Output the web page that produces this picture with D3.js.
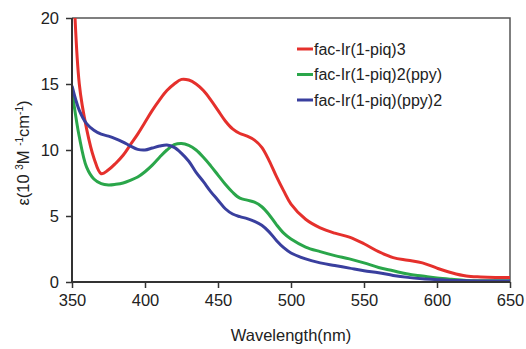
<!DOCTYPE html>
<html>
<head>
<meta charset="utf-8">
<script src="https://cdn.jsdelivr.net/npm/d3@7"></script>
<style>
    body { margin: 0; background: #fff; }
    svg text { font-family: "Liberation Sans", Arial, sans-serif; fill: #222; }
</style>
</head>
<body>
<div id="chart"></div>
<script>
    var wavelengths = [350, 355, 360, 365, 370, 375, 380, 385, 390, 395, 400, 405, 410, 415, 420, 425,
        430, 435, 440, 445, 450, 455, 460, 465, 470, 475, 480, 485, 490, 495, 500, 510, 520, 530, 540,
        550, 560, 570, 580, 590, 600, 610, 620, 630, 640, 650];

    var piq3 = [26, 15, 11.6, 9.4, 8.2, 8.5, 9.0, 9.6, 10.4, 11.2, 12.1, 13.0, 13.8, 14.5, 15.0, 15.35,
        15.3, 15.0, 14.5, 13.8, 13.0, 12.2, 11.6, 11.25, 11.05, 10.75, 10.2, 9.2, 8.0, 6.9, 5.9, 4.75, 4.1,
        3.7, 3.4, 2.9, 2.3, 1.85, 1.65, 1.45, 1.05, 0.7, 0.45, 0.38, 0.35, 0.35];

    var piq2ppy = [14.5, 11.0, 8.7, 7.8, 7.45, 7.35, 7.4, 7.5, 7.7, 7.95, 8.35, 8.85, 9.45, 10.0, 10.4, 10.5,
        10.35, 10.0, 9.45, 8.8, 8.1, 7.4, 6.8, 6.35, 6.2, 6.05, 5.7, 5.1, 4.35, 3.7, 3.25, 2.65, 2.3,
        2.0, 1.75, 1.45, 1.1, 0.85, 0.6, 0.45, 0.3, 0.2, 0.12, 0.1, 0.1, 0.1];

    var piqppy2 = [14.85, 13.0, 12.0, 11.5, 11.2, 11.05, 10.85, 10.6, 10.3, 10.05, 10.0, 10.15, 10.3, 10.38, 10.2, 9.75,
        9.15, 8.3, 7.6, 6.85, 6.2, 5.55, 5.15, 4.95, 4.8, 4.6, 4.3, 3.8, 3.15, 2.6, 2.2, 1.75, 1.45,
        1.25, 1.05, 0.85, 0.7, 0.5, 0.35, 0.25, 0.18, 0.12, 0.1, 0.08, 0.08, 0.08];

    var seriesNames = ["fac-Ir(1-piq)3", "fac-Ir(1-piq)2(ppy)", "fac-Ir(1-piq)(ppy)2"];
    var seriesColors = ["#e5302c", "#2aa64a", "#393f9e"];
    var xTicks = [350, 400, 450, 500, 550, 600, 650];
    var yTicks = [0, 5, 10, 15, 20];

    var w = 526, h = 349;
    var margin = { left: 72, top: 18, right: 16, bottom: 67 };
    var chartWidth = w - margin.left - margin.right;
    var chartHeight = h - margin.top - margin.bottom;

    var svg = d3.select("#chart").append("svg")
        .attr("width", w)
        .attr("height", h);

    var x = d3.scaleLinear().domain([350, 650]).range([0, chartWidth]);
    var y = d3.scaleLinear().domain([0, 20]).range([chartHeight, 0]);

    var g = svg.append("g")
        .attr("transform", "translate(" + margin.left + "," + margin.top + ")");

    g.append("clipPath").attr("id", "clip")
        .append("rect")
        .attr("width", chartWidth)
        .attr("height", chartHeight);

    // frame top + right
    g.append("path")
        .attr("d", "M0,0H" + chartWidth + "V" + chartHeight)
        .attr("fill", "none")
        .attr("stroke", "#555")
        .attr("stroke-width", 1.5);

    var series = [piq3, piq2ppy, piqppy2];
    var line = d3.line()
        .x(function (d, i) { return x(wavelengths[i]); })
        .y(function (d) { return y(d); })
        .curve(d3.curveCatmullRom.alpha(0.5));

    g.append("g").attr("clip-path", "url(#clip)")
        .selectAll("path.curve")
        .data(series)
        .enter().append("path")
        .attr("class", "curve")
        .attr("d", line)
        .attr("fill", "none")
        .attr("stroke", function (d, i) { return seriesColors[i]; })
        .attr("stroke-width", 3)
        .attr("stroke-linejoin", "round");

    var xAxis = g.append("g")
        .attr("transform", "translate(0," + chartHeight + ")")
        .call(d3.axisBottom(x).tickValues(xTicks).tickSize(6).tickPadding(6));
    var yAxis = g.append("g")
        .call(d3.axisLeft(y).tickValues(yTicks).tickSize(6).tickPadding(7));

    [xAxis, yAxis].forEach(function (a) {
        a.select(".domain").attr("stroke", "#333").attr("stroke-width", 2);
        a.selectAll(".tick line").attr("stroke", "#333").attr("stroke-width", 1.5);
        a.selectAll("text").attr("font-size", 16.5).attr("fill", "#222")
            .attr("font-family", "Liberation Sans, Arial, sans-serif");
    });
    xAxis.selectAll(".domain").attr("d", "M0,0H" + chartWidth);
    yAxis.selectAll(".domain").attr("d", "M0,0V" + chartHeight);

    svg.append("text")
        .attr("x", margin.left + chartWidth / 2)
        .attr("y", 341)
        .attr("text-anchor", "middle")
        .attr("font-size", 16.5)
        .text("Wavelength(nm)");

    var yTitle = svg.append("text")
        .attr("transform", "translate(29," + (margin.top + chartHeight / 2 + 3) + ") rotate(-90)")
        .attr("text-anchor", "middle")
        .attr("font-size", 16.5);
    yTitle.append("tspan").text("ε(10 ");
    yTitle.append("tspan").attr("font-size", 10).attr("dy", -6).text("3");
    yTitle.append("tspan").attr("dy", 6).text("M ");
    yTitle.append("tspan").attr("font-size", 10).attr("dy", -6).text("-1");
    yTitle.append("tspan").attr("dy", 6).text("cm");
    yTitle.append("tspan").attr("font-size", 10).attr("dy", -6).text("-1");
    yTitle.append("tspan").attr("dy", 6).text(")");

    var legend = svg.selectAll("g.legend")
        .data(seriesNames)
        .enter().append("g")
        .attr("class", "legend")
        .attr("transform", function (d, i) { return "translate(297," + (49 + i * 25.5) + ")"; });
    legend.append("line")
        .attr("x1", 0).attr("x2", 16)
        .attr("stroke", function (d, i) { return seriesColors[i]; })
        .attr("stroke-width", 3);
    legend.append("text")
        .attr("x", 17)
        .attr("dy", "0.35em")
        .attr("font-size", 16)
        .text(function (d) { return d; });
</script>
</body>
</html>
